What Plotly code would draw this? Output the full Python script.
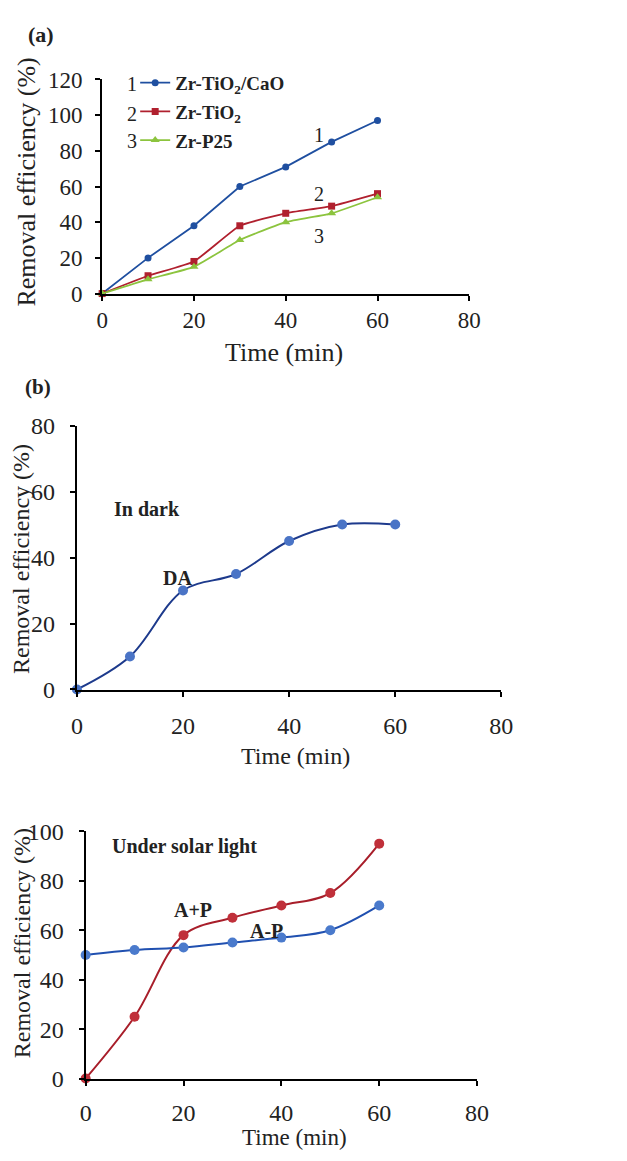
import plotly.graph_objects as go

# ---------------- data ----------------
time_min = [0, 10, 20, 30, 40, 50, 60]

# panel (a)
a_names = ["<b>Zr-TiO<sub>2</sub>/CaO</b>", "<b>Zr-TiO<sub>2</sub></b>", "<b>Zr-P25</b>"]
a_zr_tio2_cao = [0, 20, 38, 60, 71, 85, 97]
a_zr_tio2 = [0, 10, 18, 38, 45, 49, 56]
a_zr_p25 = [0, 8, 15, 30, 40, 45, 54]

# panel (b) in dark
b_da = [0, 10, 30, 35, 45, 50, 50]

# panel (c) under solar light
c_a_plus_p = [0, 25, 58, 65, 70, 75, 95]
c_a_minus_p = [50, 52, 53, 55, 57, 60, 70]

x_ticks = [0, 20, 40, 60, 80]
a_y_ticks = [0, 20, 40, 60, 80, 100, 120]
b_y_ticks = [0, 20, 40, 60, 80]
c_y_ticks = [0, 20, 40, 60, 80, 100]

FONT = "Liberation Serif"
W, H = 627, 1161

fig = go.Figure()

# ---- panel (a)
fig.add_trace(go.Scatter(x=time_min, y=a_zr_tio2_cao, name=a_names[0], mode="lines+markers",
                         legendgroup="g1",
                         line=dict(color="#1f4fa0", width=1.8),
                         marker=dict(symbol="circle", size=7, color="#1f4fa0"),
                         xaxis="x", yaxis="y", cliponaxis=False))
fig.add_trace(go.Scatter(x=time_min, y=a_zr_tio2, name=a_names[1], mode="lines+markers",
                         legendgroup="g2",
                         line=dict(color="#b0202e", width=1.8, shape="spline", smoothing=0.4),
                         marker=dict(symbol="square", size=7, color="#b0202e"),
                         xaxis="x", yaxis="y", cliponaxis=False))
fig.add_trace(go.Scatter(x=time_min, y=a_zr_p25, name=a_names[2], mode="lines+markers",
                         legendgroup="g3",
                         line=dict(color="#8cc43e", width=1.8, shape="spline", smoothing=0.4),
                         marker=dict(symbol="triangle-up", size=8, color="#8cc43e"),
                         xaxis="x", yaxis="y", cliponaxis=False))

# ---- panel (b)
fig.add_trace(go.Scatter(x=time_min, y=b_da, name="DA", mode="lines+markers", showlegend=False,
                         line=dict(color="#1d3a8c", width=2, shape="spline", smoothing=1),
                         marker=dict(symbol="circle", size=10, color="#4a74c6"),
                         xaxis="x2", yaxis="y2", cliponaxis=False))

# ---- panel (c)
fig.add_trace(go.Scatter(x=time_min, y=c_a_plus_p, name="A+P", mode="lines+markers", showlegend=False,
                         line=dict(color="#a81e2a", width=2, shape="spline", smoothing=1),
                         marker=dict(symbol="circle", size=10, color="#c0303a"),
                         xaxis="x3", yaxis="y3", cliponaxis=False))
fig.add_trace(go.Scatter(x=time_min, y=c_a_minus_p, name="A-P", mode="lines+markers", showlegend=False,
                         line=dict(color="#2050b0", width=2, shape="spline", smoothing=1),
                         marker=dict(symbol="circle", size=10, color="#4a7acc"),
                         xaxis="x3", yaxis="y3", cliponaxis=False))


def px_x(p):
    return p / W


def px_y(p):
    return 1 - p / H


def axis_style(size):
    return dict(showline=True, linecolor="black", linewidth=2, ticks="outside", ticklen=5,
                tickwidth=2, tickcolor="black", showgrid=False, zeroline=False,
                tickfont=dict(family=FONT, size=size, color="#222"), fixedrange=True)


fig.update_layout(
    width=W, height=H, margin=dict(l=0, r=0, t=0, b=0),
    paper_bgcolor="white", plot_bgcolor="white",
    font=dict(family=FONT, color="#222"),
    xaxis=dict(domain=[px_x(99), px_x(477)], range=[0, 80], tickvals=x_ticks, anchor="y",
               ticklabelstandoff=0, **axis_style(23)),
    yaxis=dict(domain=[px_y(287), px_y(68)], range=[0, 120], tickvals=a_y_ticks, anchor="x",
               ticklabelstandoff=8, **axis_style(23)),
    xaxis2=dict(domain=[px_x(73), px_x(510)], range=[0, 80], tickvals=x_ticks, anchor="y2",
                ticklabelstandoff=9, **axis_style(24)),
    yaxis2=dict(domain=[px_y(692), px_y(422)], range=[0, 80], tickvals=b_y_ticks, anchor="x2",
                ticklabelstandoff=10, **axis_style(24)),
    xaxis3=dict(domain=[px_x(82), px_x(485)], range=[0, 80], tickvals=x_ticks, anchor="y3",
                ticklabelstandoff=7, **axis_style(24)),
    yaxis3=dict(domain=[px_y(1090), px_y(837)], range=[0, 100], tickvals=c_y_ticks, anchor="x3",
                ticklabelstandoff=10, **axis_style(24)),
    showlegend=True,
    legend=dict(x=px_x(133), y=px_y(52), xanchor="left", yanchor="top", bgcolor="rgba(0,0,0,0)",
                font=dict(family=FONT, size=19, color="#222"), itemwidth=30,
                traceorder="grouped", tracegroupgap=1),
)

ann = []


def text(x, y, s, size, bold=False, xref="paper", yref="paper", angle=0):
    ann.append(dict(x=x, y=y, xref=xref, yref=yref, text=("<b>%s</b>" % s) if bold else s,
                    showarrow=False, textangle=angle, xanchor="center", yanchor="middle",
                    font=dict(family=FONT, size=size, color="#222")))


# panel labels
text(px_x(36), px_y(22), "(a)", 22, bold=True)
text(px_x(33), px_y(383), "(b)", 21, bold=True)

# axis titles
text(px_x(21), px_y(173), "Removal efficiency (%)", 26, angle=-90)
text(px_x(286), px_y(347), "Time (min)", 26)
text(px_x(16), px_y(559), "Removal efficiency (%)", 24, angle=-90)
text(px_x(298), px_y(760), "Time (min)", 24)
text(px_x(16), px_y(952), "Removal efficiency (%)", 24, angle=-90)
text(px_x(297), px_y(1150), "Time (min)", 23)

# legend numbers
text(px_x(130), px_y(73), "1", 20)
text(px_x(130), px_y(103), "2", 20)
text(px_x(130), px_y(131), "3", 20)

# curve labels (a)
text(47.2, 88.8, "1", 20, xref="x", yref="y")
text(47.2, 55.9, "2", 20, xref="x", yref="y")
text(47.2, 32.3, "3", 20, xref="x", yref="y")

# panel (b)
text(13.2, 54.8, "In dark", 20, bold=True, xref="x2", yref="y2")
text(18.9, 33.8, "DA", 20, bold=True, xref="x2", yref="y2")

# panel (c)
text(20.2, 94, "Under solar light", 20, bold=True, xref="x3", yref="y3")
text(22.0, 68, "A+P", 20, bold=True, xref="x3", yref="y3")
text(36.9, 59.7, "A-P", 20, bold=True, xref="x3", yref="y3")

fig.update_layout(annotations=ann)

fig.write_html("out.html")
